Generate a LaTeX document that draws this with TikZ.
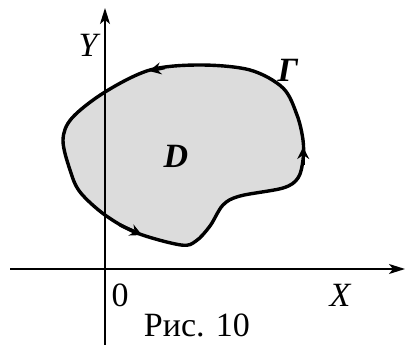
\documentclass[tikz,border=0pt]{standalone}
\usepackage{fontspec}
\setmainfont{Liberation Serif}
\usetikzlibrary{arrows.meta}
\begin{document}
\begin{tikzpicture}[x=1pt,y=-1pt,
  axis/.style={line width=1.8pt,-{Stealth[length=16pt,width=10pt,inset=4pt]}},
  contour/.style={line width=3.4pt,fill={rgb,255:red,220;green,220;blue,220},line join=round},
  flowtip/.style={line width=3.4pt,-{Stealth[length=12pt,width=12pt,inset=4pt]}},
  lbl/.style={font=\fontsize{34}{40}\selectfont,inner sep=0pt},
  lbli/.style={font=\fontsize{34}{40}\selectfont\itshape,inner sep=0pt},
  lblb/.style={font=\fontsize{34}{40}\selectfont\bfseries\itshape,inner sep=0pt}]
\useasboundingbox (0,0) rectangle (405,345);
\draw[contour] plot[smooth cycle,tension=0.55] coordinates{
 (200,65) (150,70) (105,92) (72,118) (63,140) (70,170) (80,192) (105,215)
 (137,233) (181,245) (196,241) (210,226) (223,205) (240,196) (283,188)
 (298,178) (303,160) (303,140) (297,115) (283,88) (250,70)};
\coordinate (a1s) at (165,67.5);
\coordinate (a1e) at (149,71);
\coordinate (a2s) at (120,225);
\coordinate (a2e) at (142,235);
\coordinate (a3s) at (303.2,165);
\coordinate (a3e) at (303.2,147);
\draw[flowtip] (a1s) -- (a1e);
\draw[flowtip] (a2s) -- (a2e);
\draw[flowtip] (a3s) -- (a3e);
\coordinate (xs) at (10,269);
\coordinate (xe) at (405,269);
\coordinate (ys) at (105,345);
\coordinate (ye) at (105,8);
\draw[axis] (xs) -- (xe);
\draw[axis] (ys) -- (ye);
\node[lbli] (ylab) at (88,45) {Y};
\node[lblb] (gam) at (288,70) {Γ};
\node[lblb] (dlab) at (176,156) {D};
\node[lbl] (zero) at (120,295) {0};
\node[lbli] (xlab) at (340,295) {X};
\node[lbl] (cap) at (197,325) {Рис. 10};
\end{tikzpicture}
\end{document}
